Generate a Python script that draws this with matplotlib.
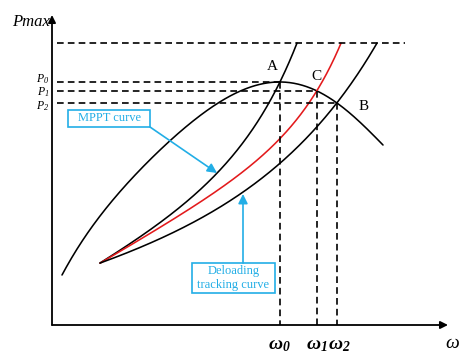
import matplotlib
matplotlib.use('Agg')
import matplotlib.pyplot as plt
from matplotlib.patches import Rectangle
import numpy as np

plt.rcParams['mathtext.fontset'] = 'custom'
plt.rcParams['mathtext.rm'] = 'Liberation Serif:italic'
plt.rcParams['mathtext.it'] = 'Liberation Serif:italic'
plt.rcParams['mathtext.bf'] = 'Liberation Serif:italic:bold'

# ---- schematic data (omega, P) in chart units, origin at the axis corner ----
mppt_w = [10, 38, 78, 111, 153, 195, 228, 238, 265, 285, 308, 331]
mppt_p = [50, 95, 145, 178, 212, 238, 243, 244.5, 234, 222, 202, 180]

left_w = [48, 103, 128, 165, 195, 228, 245]
left_p = [62, 98, 115, 152, 195, 243, 282]

red_w = [48, 103, 128, 161, 195, 228, 265, 289]
red_p = [62, 85, 100, 128, 156, 187, 234, 282]

right_w = [48, 103, 128, 191, 228, 248, 285, 305, 325]
right_p = [62, 78, 92, 132, 162, 182, 222, 252, 282]

point_names = ['A', 'C', 'B']
point_w = [228, 265, 285]
point_p = [243, 234, 222]
p_labels = ['0', '1', '2']
top_p = 282
top_w_end = 353

SERIF = 'Liberation Serif'
BLUE = '#22aee6'

fig = plt.figure(figsize=(4.74, 3.54), dpi=100)
ax = fig.add_axes([0, 0, 1, 1])
ax.set_xlim(-52, 422)
ax.set_ylim(-29, 325)
ax.axis('off')


def weights(xs):
    w = np.ones_like(xs)
    w[0] = w[-1] = 8
    for pw in point_w:
        w[np.isclose(xs, pw)] = 8
    return w


def draw_poly(xs, ys, deg, col):
    """Smooth least-squares polynomial through the read points."""
    xs = np.asarray(xs, float)
    ys = np.asarray(ys, float)
    coef = np.polyfit(xs, ys, deg, w=weights(xs))
    xx = np.linspace(xs[0], xs[-1], 300)
    ax.plot(xx, np.polyval(coef, xx), color=col, lw=1.15,
            solid_capstyle='round')


def draw_convex(xs, ys, col):
    """Smooth convex least-squares curve (a + c*x + b*exp(x/s))
    through the read points."""
    xs = np.asarray(xs, float)
    ys = np.asarray(ys, float)
    w = weights(xs)
    best = None
    for s in np.linspace(30, 800, 771):
        A = np.column_stack([np.ones_like(xs), xs, np.exp(xs / s)])
        coef = np.linalg.lstsq(A * w[:, None], ys * w, rcond=None)[0]
        err = np.sum(((A @ coef) - ys) ** 2 * w ** 2)
        if best is None or err < best[0]:
            best = (err, s, coef)
    _, s, coef = best
    xx = np.linspace(xs[0], xs[-1], 300)
    yy = coef[0] + coef[1] * xx + coef[2] * np.exp(xx / s)
    ax.plot(xx, yy, color=col, lw=1.15, solid_capstyle='round')


draw_poly(mppt_w, mppt_p, 5, 'black')
draw_convex(left_w, left_p, 'black')
draw_convex(red_w, red_p, '#e31a1c')
draw_convex(right_w, right_p, 'black')

# axes with arrows
ax.annotate('', xy=(0, 310), xytext=(0, 0),
            arrowprops=dict(arrowstyle='-|>', color='black', lw=1.3,
                            mutation_scale=11, shrinkA=0, shrinkB=0))
ax.annotate('', xy=(396, 0), xytext=(0, 0),
            arrowprops=dict(arrowstyle='-|>', color='black', lw=1.3,
                            mutation_scale=11, shrinkA=0, shrinkB=0))

dash = dict(color='black', lw=1.2, linestyle=(0, (4, 2.5)))
ax.plot([5, top_w_end], [top_p, top_p], **dash)
for w, p in zip(point_w, point_p):
    ax.plot([5, w], [p, p], **dash)
    ax.plot([w, w], [p, 0], **dash)

# labels
ax.text(-2, 303, 'Pmax', family=SERIF, style='italic', fontsize=12,
        ha='right', va='center')
for lab, p, dy in zip(p_labels, point_p, [2.5, -1, -3.5]):
    ax.text(-3, p + dy, r'$P_{%s}$' % lab, fontsize=8.5,
            ha='right', va='center')

for name, (dx, dy) in zip(point_names, [(-8, 15), (-1, 15), (27, -4)]):
    i = point_names.index(name)
    ax.text(point_w[i] + dx, point_p[i] + dy, name, family=SERIF,
            fontsize=11, ha='center', va='center')

for lab, w, dx in zip(p_labels, point_w, [-1, 0, 2]):
    ax.text(w + dx, -19, r'$\mathbf{ω_{%s}}$' % lab, fontsize=14,
            ha='center', va='center')
ax.text(400, -18, 'ω', family=SERIF, style='italic', fontsize=14,
        ha='center', va='center')

# annotation boxes
ax.add_patch(Rectangle((16, 198), 82, 17, fc='white', ec=BLUE, lw=1.2))
ax.text(57, 207, 'MPPT curve', family=SERIF, fontsize=9, color=BLUE,
        ha='center', va='center')
ax.annotate('', xy=(165, 152), xytext=(98, 198),
            arrowprops=dict(arrowstyle='-|>', color=BLUE, lw=1.2,
                            mutation_scale=14, shrinkA=0, shrinkB=0))

ax.add_patch(Rectangle((140, 32), 83, 30, fc='white', ec=BLUE, lw=1.2))
ax.text(181.5, 47, 'Deloading\ntracking curve', family=SERIF, fontsize=9,
        color=BLUE, ha='center', va='center', linespacing=1.15)
ax.annotate('', xy=(191, 131), xytext=(191, 62),
            arrowprops=dict(arrowstyle='-|>', color=BLUE, lw=1.2,
                            mutation_scale=14, shrinkA=0, shrinkB=0))

fig.savefig('out.png', dpi=100)
